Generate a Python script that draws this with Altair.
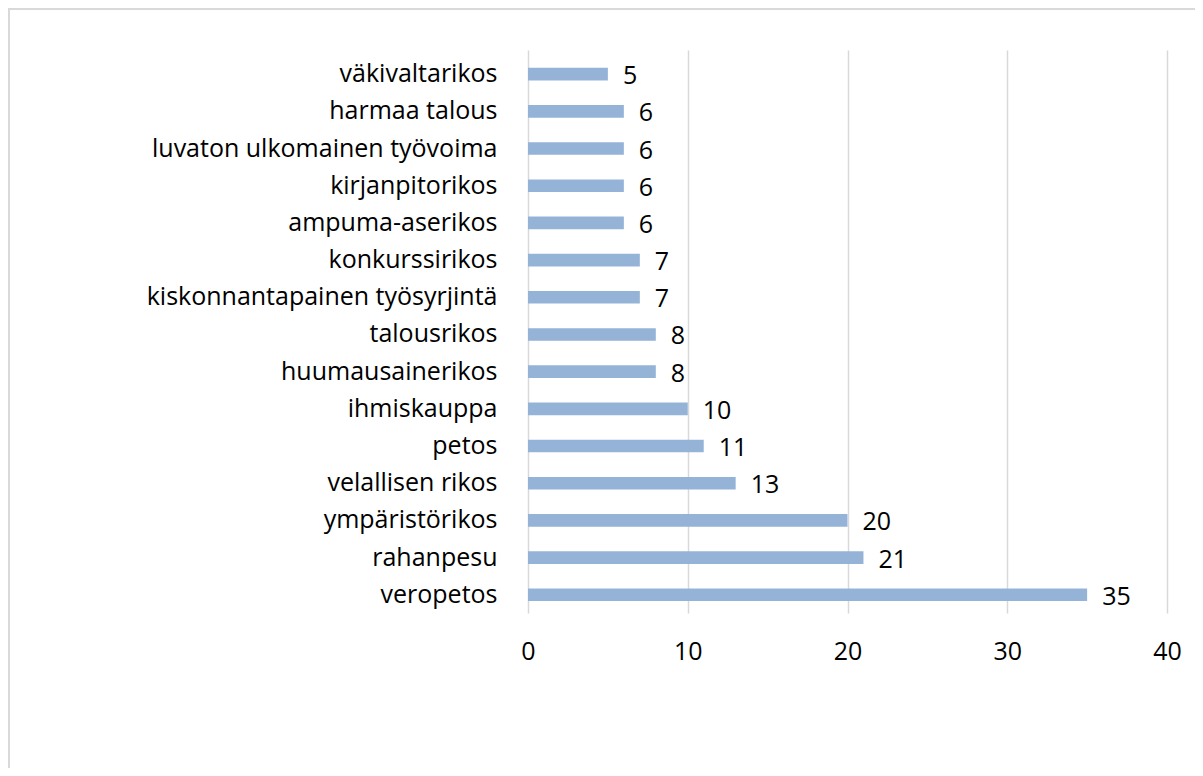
import altair as alt
import pandas as pd

categories = [
    "väkivaltarikos", "harmaa talous", "luvaton ulkomainen työvoima",
    "kirjanpitorikos", "ampuma-aserikos", "konkurssirikos",
    "kiskonnantapainen työsyrjintä", "talousrikos", "huumausainerikos",
    "ihmiskauppa", "petos", "velallisen rikos", "ympäristörikos",
    "rahanpesu", "veropetos",
]
values = [5, 6, 6, 6, 6, 7, 7, 8, 8, 10, 11, 13, 20, 21, 35]
x_ticks = [0, 10, 20, 30, 40]

df = pd.DataFrame({"rikos": categories, "maara": values})

FONT = "Open Sans"
FS = 25
W, H = 639, 563
TOP, LEFT = 42, 520

y_enc = alt.Y("rikos:N", sort=categories, title=None,
              scale=alt.Scale(paddingInner=0.66, paddingOuter=0.4, align=0.6),
              axis=alt.Axis(domain=False, ticks=False, labelFontSize=FS,
                            labelFont=FONT, labelColor="#000000",
                            labelPadding=31, labelLimit=600))
x_enc = alt.X("maara:Q", title=None,
              scale=alt.Scale(domain=[0, 40]),
              axis=alt.Axis(values=x_ticks, domain=False, ticks=False,
                            grid=True, gridColor="#d9d9d9", gridWidth=1.5,
                            labelFlush=False,
                            labelFontSize=FS, labelFont=FONT,
                            labelColor="#000000", labelPadding=26))

bars = alt.Chart(df).mark_bar(color="#95b3d7").encode(x=x_enc, y=y_enc)
labels = alt.Chart(df).mark_text(align="left", baseline="middle", dx=15, dy=2,
                                 fontSize=FS, font=FONT, color="#000000").encode(
    x="maara:Q", y=alt.Y("rikos:N", sort=categories), text="maara:Q")

frame = alt.Chart(pd.DataFrame({"k": [0]})).mark_rect(
    fill="transparent", stroke="#d9d9d9", strokeWidth=2).encode(
    x=alt.value(-LEFT + 1), x2=alt.value(W + 60),
    y=alt.value(-TOP + 1), y2=alt.value(H + 250))

chart = alt.layer(frame, bars, labels).properties(
    width=W, height=H,
    autosize=alt.AutoSizeParams(type="none"),
    padding={"left": LEFT, "top": TOP, "right": 28, "bottom": 760 - TOP - H},
).configure(background="white", view=alt.ViewConfig(stroke=None))

chart.save("out.html", embed_options={"renderer": "svg", "actions": False})
